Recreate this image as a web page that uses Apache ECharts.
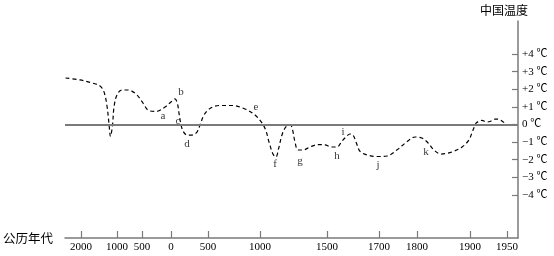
<!DOCTYPE html>
<html>
<head>
<meta charset="utf-8">
<script src="https://cdn.jsdelivr.net/npm/echarts@6/dist/echarts.min.js"></script>
<style>html,body{margin:0;padding:0;background:#fff;}#c{width:554px;height:256px;}</style>
</head>
<body>
<div id="c"></div>
<script>
// Temperature anomaly curve (year, °C); negative years = BC
const years = [-2430,-2030,-1695,-1472,-1361,-1278,-1222,-1181,-1125,-1083,-1000,-900,-780,-620,-483,-397,-259,-103,0,54,88,108,128,162,216,284,351,392,446,519,606,731,856,952,1015,1045,1067,1097,1119,1138,1164,1187,1213,1228,1243,1261,1284,1321,1373,1433,1485,1519,1538,1558,1577,1588,1600,1613,1627,1654,1692,1721,1747,1774,1795,1809,1821,1832,1845,1866,1885,1898,1903,1907,1909,1916,1923,1927,1934,1941,1949];
const temps = [2.64,2.53,2.36,2.19,1.85,1.05,0.03,-0.68,-0.03,0.99,1.68,1.96,1.96,1.73,1.22,0.82,0.74,0.99,1.28,1.45,1.16,0.65,0.14,-0.37,-0.60,-0.60,-0.43,-0.03,0.54,0.91,1.08,1.08,0.88,0.54,0.09,-0.37,-0.99,-1.68,-1.85,-1.39,-0.60,-0.20,-0.03,-0.03,-0.31,-0.99,-1.45,-1.45,-1.28,-1.14,-1.16,-1.28,-1.28,-0.94,-0.65,-0.54,-0.60,-1.05,-1.53,-1.73,-1.82,-1.79,-1.45,-0.97,-0.71,-0.77,-1.05,-1.45,-1.68,-1.56,-1.28,-0.88,-0.43,-0.03,0.11,0.23,0.14,0.17,0.31,0.26,0.0];

// Point letters
const letterNames = ['a','b','c','d','e','f','g','h','i','j','k'];
const letterYears = [-138,135,95,216,962,1112,1299,1538,1562,1696,1817];
const letterTemps = [0.48,1.85,0.20,-1.11,0.99,-2.24,-2.07,-1.82,-0.43,-2.30,-1.56];

// Non-linear time axis: tick years, their labels and scale stops (axis units)
const tickYears = [-2000,-1000,-500,0,500,1000,1500,1700,1800,1900,1950];
const tickLabels = ['2000','1000','500','0','500','1000','1500','1700','1800','1900','1950'];
const tickUnits = [16,52,77,106,143,195,262,314,352,405,442];
const axisUnitMax = 453;

// Temperature ticks
const tempTicks = [-4,-3,-2,-1,0,1,2,3,4];

function yearToUnit(y) {
  let i = 0;
  while (i < tickYears.length - 2 && y > tickYears[i + 1]) i++;
  const y0 = tickYears[i], y1 = tickYears[i + 1];
  const u0 = tickUnits[i], u1 = tickUnits[i + 1];
  return u0 + (y - y0) * (u1 - u0) / (y1 - y0);
}

const serif = '"Liberation Serif","Times New Roman","Noto Sans CJK SC",serif';
const cjk = '"Noto Sans CJK SC","Liberation Serif",sans-serif';
const axisColor = '#7a7a7a';

const chart = echarts.init(document.getElementById('c'), null, {renderer: 'canvas'});
chart.setOption({
  animation: false,
  backgroundColor: '#fff',
  grid: {left: 65, right: 36, top: 21, bottom: 18, containLabel: false},
  xAxis: {
    type: 'value',
    min: 0,
    max: axisUnitMax,
    name: '公历年代',
    nameLocation: 'start',
    nameGap: 12,
    nameTextStyle: {fontFamily: cjk, fontSize: 12.5, color: '#000', padding: [8, 0, 0, 0]},
    axisLine: {show: true, onZero: false, lineStyle: {color: axisColor, width: 1.5}},
    axisTick: {show: true, inside: true, length: 7, customValues: tickUnits, lineStyle: {color: axisColor, width: 1.2}},
    axisLabel: {
      show: true, margin: 4, customValues: tickUnits,
      fontFamily: serif, fontSize: 11, color: '#000',
      formatter: function (v) {
        const idx = tickUnits.indexOf(Math.round(v));
        return idx >= 0 ? tickLabels[idx] : '';
      }
    },
    splitLine: {show: false}
  },
  yAxis: {
    type: 'value',
    position: 'right',
    min: -6.45,
    max: 5.88,
    name: '中国温度',
    nameLocation: 'end',
    nameGap: 5,
    nameTextStyle: {fontFamily: cjk, fontSize: 12, color: '#000', align: 'center', padding: [0, 28, 0, 0]},
    axisLine: {show: true, onZero: false, lineStyle: {color: axisColor, width: 1.5}},
    axisTick: {show: true, inside: true, length: 6, customValues: tempTicks, lineStyle: {color: axisColor, width: 1.2}},
    axisLabel: {
      show: true, margin: 4, customValues: tempTicks,
      fontFamily: serif, fontSize: 11, color: '#000',
      formatter: function (v) {
        const r = Math.round(v);
        if (r > 0) return '+' + r + ' ℃';
        if (r < 0) return '\u2212' + Math.abs(r) + ' ℃';
        return '0 ℃';
      }
    },
    splitLine: {show: false}
  },
  series: [
    {
      type: 'line',
      data: years.map((y, i) => [yearToUnit(y), temps[i]]),
      smooth: 0.35,
      showSymbol: false,
      symbol: 'none',
      lineStyle: {color: '#000', width: 1.2, type: [4, 3]},
      markLine: {
        silent: true,
        symbol: 'none',
        label: {show: false},
        lineStyle: {color: axisColor, width: 2, type: 'solid'},
        data: [{yAxis: 0}]
      },
      z: 3
    },
    {
      type: 'scatter',
      symbolSize: 0,
      data: letterYears.map((y, i) => ({name: letterNames[i], value: [yearToUnit(y), letterTemps[i]]})),
      label: {
        show: true, position: 'inside', formatter: '{b}',
        fontFamily: serif, fontSize: 11, color: '#000'
      },
      z: 4
    }
  ]
});
</script>
</body>
</html>
